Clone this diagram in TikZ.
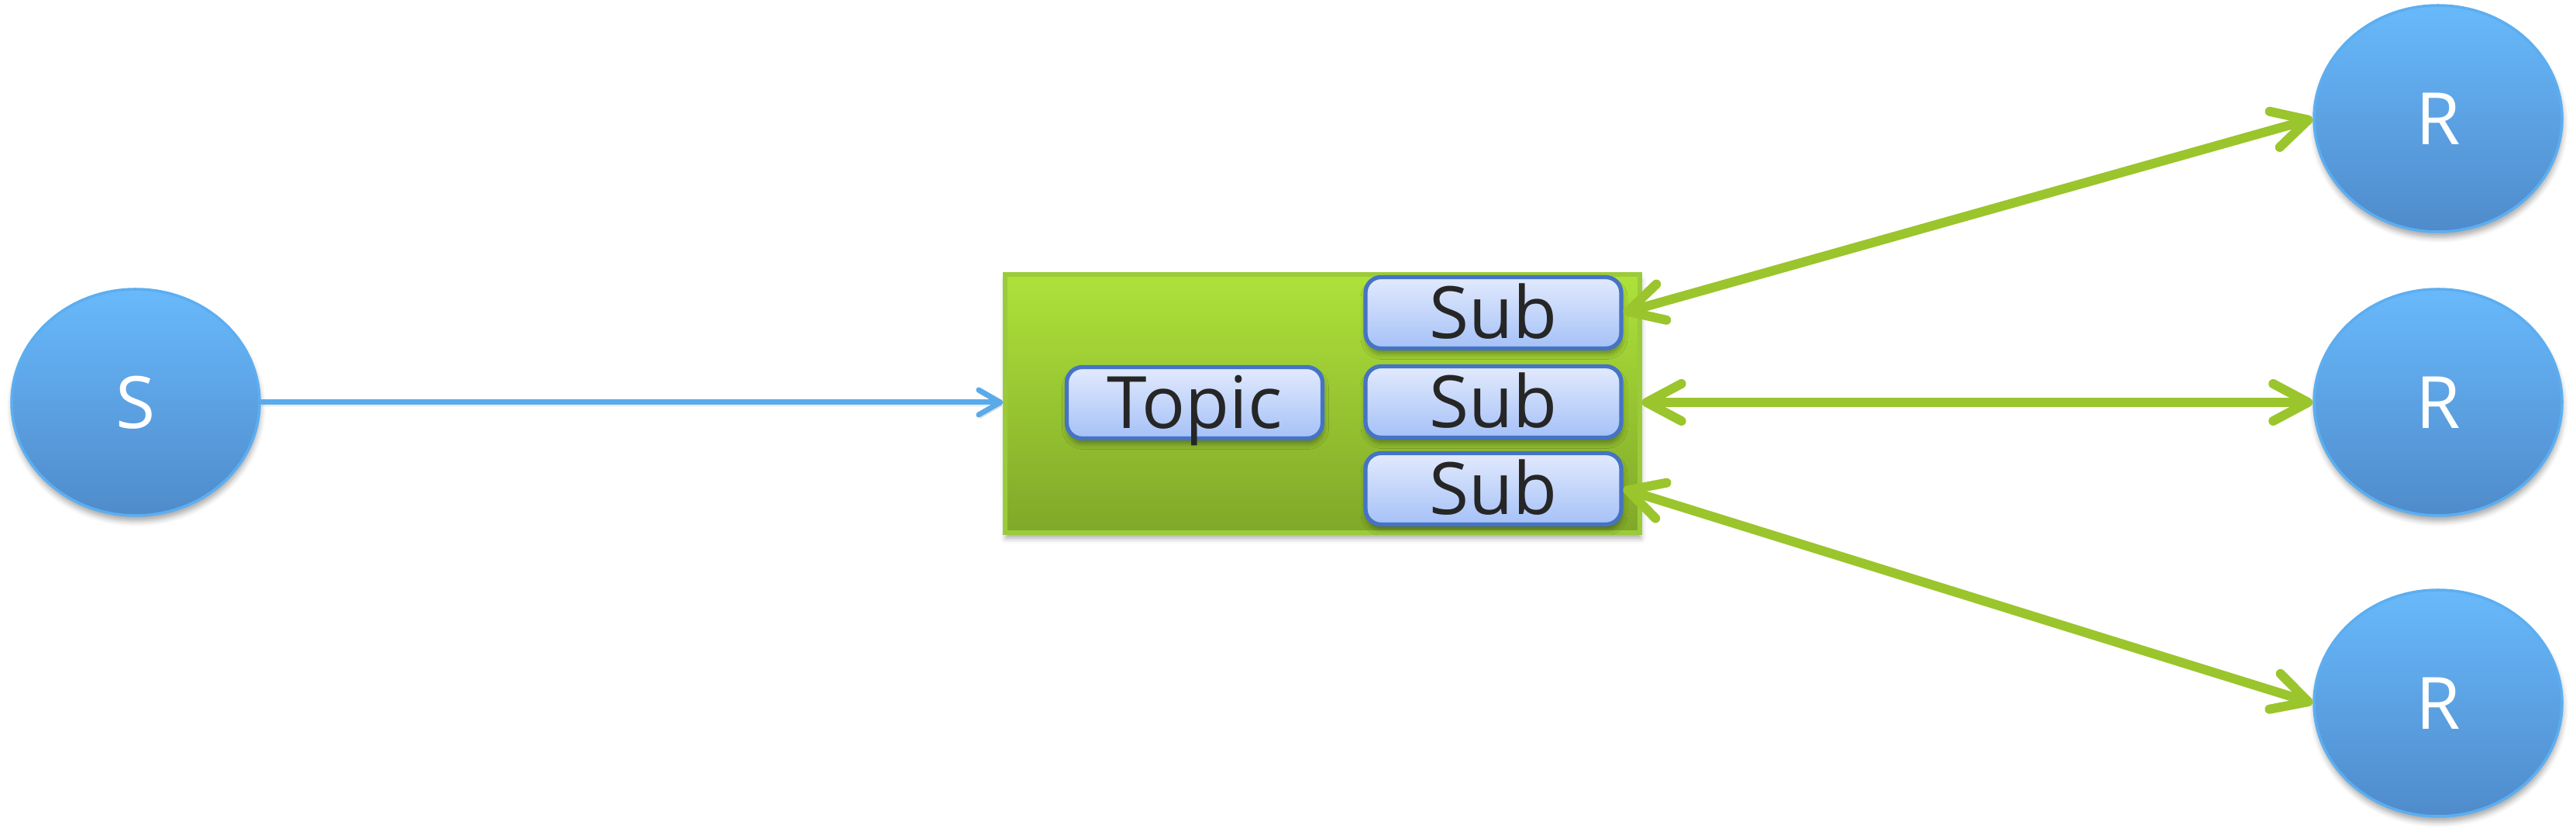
\documentclass[tikz,border=0pt]{standalone}
\usepackage{fontspec}
\setmainfont{Open Sans}
\usetikzlibrary{arrows.meta,shapes.geometric,shadows.blur}
\definecolor{eltop}{HTML}{68B9FB}
\definecolor{elbot}{HTML}{4F8BCB}
\definecolor{elborder}{HTML}{5CAEF0}
\definecolor{grtop}{HTML}{AEE23A}
\definecolor{grbot}{HTML}{80A829}
\definecolor{grborder}{HTML}{9BCB38}
\definecolor{bxtop}{HTML}{E2EAFD}
\definecolor{bxbot}{HTML}{A5C1F7}
\definecolor{bxborder}{HTML}{4573C5}
\definecolor{greenarrow}{HTML}{9BC52C}
\definecolor{bluearrow}{HTML}{5AAAEA}
\definecolor{txtdark}{HTML}{262626}
\begin{document}
\begin{tikzpicture}[
  lbl/.style={font=\fontsize{26.5}{30}\selectfont, text height=19pt, text depth=0pt},
  softshadow/.style={blur shadow={shadow xshift=0.01cm, shadow yshift=-0.07cm, shadow blur radius=0.07cm, shadow opacity=35}},
  endpoint/.style={ellipse, minimum width=3.2cm, minimum height=2.92cm, inner sep=0pt,
    top color=eltop, bottom color=elbot, draw=elborder, line width=1pt, text=white, lbl, softshadow},
  container/.style={rectangle, minimum width=8.19cm, minimum height=3.33cm, inner sep=0pt,
    top color=grtop, bottom color=grbot, draw=grborder, line width=1.5pt, softshadow},
  tbox/.style={rectangle, rounded corners=0.2cm, minimum width=3.3cm, minimum height=0.92cm, inner sep=0pt,
    top color=bxtop, bottom color=bxbot, draw=bxborder, line width=1.5pt, text=txtdark, lbl, softshadow},
  arrshadow/.style={preaction={draw=black, draw opacity=0.13, transform canvas={xshift=0.015cm, yshift=-0.045cm}}},
  bluelink/.style={draw=bluearrow, line width=0.07cm, line cap=round,
    -{Straight Barb[length=0.28cm, width=0.32cm, round]}, arrshadow},
  greenlink/.style={draw=greenarrow, line width=0.12cm,
    {Straight Barb[length=0.45cm, width=0.48cm, round]}-{Straight Barb[length=0.45cm, width=0.48cm, round]}, arrshadow}
]
\useasboundingbox (0,0) rectangle (33.24,10.76);

\node[endpoint] (S) at (1.75,5.57) {S};
\node[endpoint] (R1) at (31.46,9.23) {R};
\node[endpoint] (R2) at (31.46,5.57) {R};
\node[endpoint] (R3) at (31.46,1.69) {R};

\node[container] (box) at (17.065,5.555) {};
\node[tbox] (topic) at (15.415,5.565) {Topic};
\node[tbox] (sub1) at (19.27,6.725) {Sub};
\node[tbox] (sub2) at (19.27,5.575) {Sub};
\node[tbox] (sub3) at (19.27,4.455) {Sub};

\path[bluelink] (S.east) -- (S.east -| box.west);
\path[greenlink] (sub1.east) -- (R1.west);
\path[greenlink] (R2.west -| box.east) -- (R2.west);
\path[greenlink] (sub3.east) -- (R3.west);
\end{tikzpicture}
\end{document}
